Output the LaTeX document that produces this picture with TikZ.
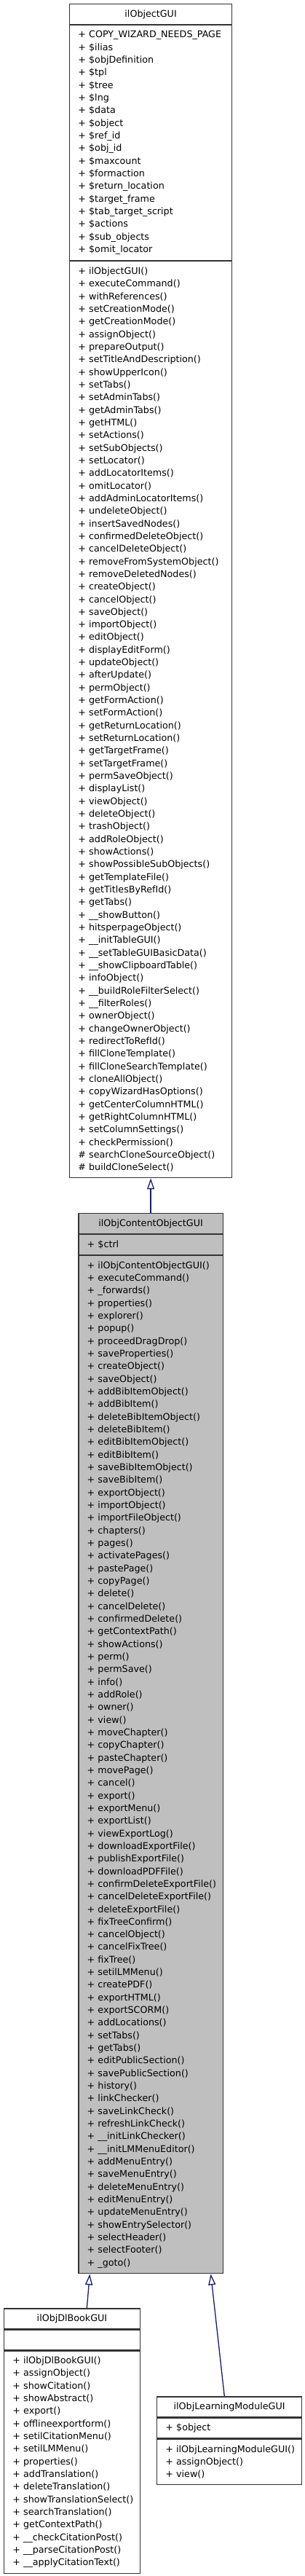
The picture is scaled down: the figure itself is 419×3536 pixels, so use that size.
\documentclass[tikz,border=0pt]{standalone}
\usepackage{fontspec}
\setmainfont{DejaVu Sans}
\usetikzlibrary{arrows.meta,positioning}

\definecolor{edgeblue}{HTML}{191970}
\definecolor{boxgray}{HTML}{BFBFBF}
\newcommand{\umlfont}{\fontsize{12.7}{17.33}\selectfont\lefthyphenmin=62\righthyphenmin=62\hyphenpenalty=10000\relax}

\tikzset{
  part/.style={draw=black!80, line width=1.2pt, inner xsep=11.7pt, inner ysep=0pt, font=\umlfont, align=left},
  rows/.style={minimum height={#1*17.33pt+10.6pt}},
  head/.style={part, align=center, rows=1},
  inherit/.style={draw=edgeblue, line width=1.3pt, -{Triangle[open, length=15pt, width=10pt]}},
}

\begin{document}
\begin{tikzpicture}[x=1pt, y=-1pt]
  \useasboundingbox (0,0) rectangle (419,3536);

  % ilObjectGUI
  \node[head, text width=199.6pt, anchor=north west] (objT) at (95,5) {ilObjectGUI};
  \node[part, text width=199.6pt, rows=18, below=0pt of objT] (objA) {%
    +~COPY\_WIZARD\_NEEDS\_PAGE\\ +~\$ilias\\ +~\$objDefinition\\ +~\$tpl\\ +~\$tree\\ +~\$lng\\
    +~\$data\\ +~\$object\\ +~\$ref\_id\\ +~\$obj\_id\\ +~\$maxcount\\ +~\$formaction\\
    +~\$return\_location\\ +~\$target\_frame\\ +~\$tab\_target\_script\\ +~\$actions\\
    +~\$sub\_objects\\ +~\$omit\_locator};
  \node[part, text width=199.6pt, rows=72, below=0pt of objA] (objM) {%
    +~ilObjectGUI()\\ +~executeCommand()\\ +~withReferences()\\ +~setCreationMode()\\
    +~getCreationMode()\\ +~assignObject()\\ +~prepareOutput()\\ +~setTitleAndDescription()\\
    +~showUpperIcon()\\ +~setTabs()\\ +~setAdminTabs()\\ +~getAdminTabs()\\ +~getHTML()\\
    +~setActions()\\ +~setSubObjects()\\ +~setLocator()\\ +~addLocatorItems()\\ +~omitLocator()\\
    +~addAdminLocatorItems()\\ +~undeleteObject()\\ +~insertSavedNodes()\\
    +~confirmedDeleteObject()\\ +~cancelDeleteObject()\\ +~removeFromSystemObject()\\
    +~removeDeletedNodes()\\ +~createObject()\\ +~cancelObject()\\ +~saveObject()\\
    +~importObject()\\ +~editObject()\\ +~displayEditForm()\\ +~updateObject()\\ +~afterUpdate()\\
    +~permObject()\\ +~getFormAction()\\ +~setFormAction()\\ +~getReturnLocation()\\
    +~setReturnLocation()\\ +~getTargetFrame()\\ +~setTargetFrame()\\ +~permSaveObject()\\
    +~displayList()\\ +~viewObject()\\ +~deleteObject()\\ +~trashObject()\\ +~addRoleObject()\\
    +~showActions()\\ +~showPossibleSubObjects()\\ +~getTemplateFile()\\ +~getTitlesByRefId()\\
    +~getTabs()\\ +~\_\_showButton()\\ +~hitsperpageObject()\\ +~\_\_initTableGUI()\\
    +~\_\_setTableGUIBasicData()\\ +~\_\_showClipboardTable()\\ +~infoObject()\\
    +~\_\_buildRoleFilterSelect()\\ +~\_\_filterRoles()\\ +~ownerObject()\\
    +~changeOwnerObject()\\ +~redirectToRefId()\\ +~fillCloneTemplate()\\
    +~fillCloneSearchTemplate()\\ +~cloneAllObject()\\ +~copyWizardHasOptions()\\
    +~getCenterColumnHTML()\\ +~getRightColumnHTML()\\ +~setColumnSettings()\\
    +~checkPermission()\\ \#~searchCloneSourceObject()\\ \#~buildCloneSelect()};

  % ilObjContentObjectGUI
  \node[head, fill=boxgray, text width=175pt, anchor=north west] (cntT) at (107.3,1665) {ilObjContentObjectGUI};
  \node[part, fill=boxgray, text width=175pt, rows=1, below=0pt of cntT] (cntA) {+~\$ctrl};
  \node[part, fill=boxgray, text width=175pt, rows=80, below=0pt of cntA] (cntM) {%
    +~ilObjContentObjectGUI()\\ +~executeCommand()\\ +~\_forwards()\\ +~properties()\\
    +~explorer()\\ +~popup()\\ +~proceedDragDrop()\\ +~saveProperties()\\ +~createObject()\\
    +~saveObject()\\ +~addBibItemObject()\\ +~addBibItem()\\ +~deleteBibItemObject()\\
    +~deleteBibItem()\\ +~editBibItemObject()\\ +~editBibItem()\\ +~saveBibItemObject()\\
    +~saveBibItem()\\ +~exportObject()\\ +~importObject()\\ +~importFileObject()\\ +~chapters()\\
    +~pages()\\ +~activatePages()\\ +~pastePage()\\ +~copyPage()\\ +~delete()\\ +~cancelDelete()\\
    +~confirmedDelete()\\ +~getContextPath()\\ +~showActions()\\ +~perm()\\ +~permSave()\\
    +~info()\\ +~addRole()\\ +~owner()\\ +~view()\\ +~moveChapter()\\ +~copyChapter()\\
    +~pasteChapter()\\ +~movePage()\\ +~cancel()\\ +~export()\\ +~exportMenu()\\ +~exportList()\\
    +~viewExportLog()\\ +~downloadExportFile()\\ +~publishExportFile()\\ +~downloadPDFFile()\\
    +~confirmDeleteExportFile()\\ +~cancelDeleteExportFile()\\ +~deleteExportFile()\\
    +~fixTreeConfirm()\\ +~cancelObject()\\ +~cancelFixTree()\\ +~fixTree()\\ +~setilLMMenu()\\
    +~createPDF()\\ +~exportHTML()\\ +~exportSCORM()\\ +~addLocations()\\ +~setTabs()\\
    +~getTabs()\\ +~editPublicSection()\\ +~savePublicSection()\\ +~history()\\
    +~linkChecker()\\ +~saveLinkCheck()\\ +~refreshLinkCheck()\\ +~\_\_initLinkChecker()\\
    +~\_\_initLMMenuEditor()\\ +~addMenuEntry()\\ +~saveMenuEntry()\\ +~deleteMenuEntry()\\
    +~editMenuEntry()\\ +~updateMenuEntry()\\ +~showEntrySelector()\\ +~selectHeader()\\
    +~selectFooter()\\ +~\_goto()};

  % ilObjDlBookGUI
  \node[head, text width=163.3pt, anchor=north west] (bookT) at (5,3168.3) {ilObjDlBookGUI};
  \node[part, text width=163.3pt, rows=1, below=0pt of bookT] (bookA) {};
  \node[part, text width=163.3pt, rows=17, below=0pt of bookA] (bookM) {%
    +~ilObjDlBookGUI()\\ +~assignObject()\\ +~showCitation()\\ +~showAbstract()\\ +~export()\\
    +~offlineexportform()\\ +~setilCitationMenu()\\ +~setilLMMenu()\\ +~properties()\\
    +~addTranslation()\\ +~deleteTranslation()\\ +~showTranslationSelect()\\
    +~searchTranslation()\\ +~getContextPath()\\ +~\_\_checkCitationPost()\\
    +~\_\_parseCitationPost()\\ +~\_\_applyCitationText()};

  % ilObjLearningModuleGUI
  \node[head, text width=175.6pt, anchor=north west] (lmT) at (215,3289.3) {ilObjLearningModuleGUI};
  \node[part, text width=175.6pt, rows=1, below=0pt of lmT] (lmA) {+~\$object};
  \node[part, text width=175.6pt, rows=3, below=0pt of lmA] (lmM) {%
    +~ilObjLearningModuleGUI()\\ +~assignObject()\\ +~view()};

  \draw[inherit] (cntT.north) -- (objM.south);
  \draw[inherit] ([xshift=20.4pt]bookT.north) -- ([xshift=-83.8pt]cntM.south);
  \draw[inherit] ([xshift=-6.8pt]lmT.north) -- ([xshift=82.5pt]cntM.south);
\end{tikzpicture}
\end{document}
